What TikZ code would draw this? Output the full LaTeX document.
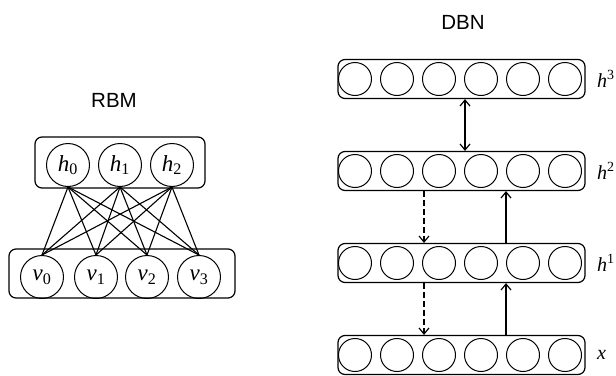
\documentclass[tikz,border=0pt]{standalone}
\usepackage{fontspec}
\setmainfont{Liberation Serif}
\setsansfont{Liberation Sans}
\usepackage{tikz}
\usetikzlibrary{arrows.meta}

\newcommand{\unitlab}[2]{\textit{#1}\textsubscript{#2}}

\tikzset{
  unit/.style = {circle, draw, line width=1pt, inner sep=0pt},
  layerbox/.style = {draw, rounded corners=7pt, line width=1.2pt, inner sep=0pt},
  link/.style = {line width=1.1pt},
  >={Straight Barb[length=6pt, width=10pt, line width=1.2pt]}
}

\begin{document}
\begin{tikzpicture}[x=1pt, y=-1pt, font=\fontsize{23}{26}\selectfont]
          \useasboundingbox (0,0) rectangle (616,375);

          % RBM
          \node[font=\sffamily\fontsize{20.5}{24}\selectfont] (rbm) at (114,100) {RBM};
          \node[layerbox, minimum width=170pt, minimum height=51pt] (hidbox) at (120,162.5) {};
          \node[layerbox, minimum width=226pt, minimum height=49pt] (visbox) at (122,273.5) {};
          \node[unit, minimum size=43pt] (h0) at (68,165) {\unitlab{h}{0}};
          \node[unit, minimum size=43pt] (h1) at (120,165) {\unitlab{h}{1}};
          \node[unit, minimum size=43pt] (h2) at (172,165) {\unitlab{h}{2}};
          \node[unit, minimum size=43pt] (v0) at (42,277) {\unitlab{v}{0}};
          \node[unit, minimum size=43pt] (v1) at (96,277) {\unitlab{v}{1}};
          \node[unit, minimum size=43pt] (v2) at (147,277) {\unitlab{v}{2}};
          \node[unit, minimum size=43pt] (v3) at (199,277) {\unitlab{v}{3}};
          \foreach \i in {0,1,2}
            \foreach \j in {0,1,2,3}
              \draw[link] (h\i.south) -- (v\j.north);

          % DBN
          \node[font=\sffamily\fontsize{20.5}{24}\selectfont] (dbn) at (463,22) {DBN};
          \foreach \l/\y/\lab in {3/79/\textit{h}\textsuperscript{3}, 2/171/\textit{h}\textsuperscript{2},
                                  1/263/\textit{h}\textsuperscript{1}, 0/355/\textit{x}} {
            \node[layerbox, minimum width=247pt, minimum height=39pt] (box\l) at (461.5,\y) {};
            \foreach \k in {1,...,6}
              \node[unit, minimum size=33pt] (c\l\k) at (313+42*\k,\y) {};
            \node[anchor=west, inner sep=0pt, font=\fontsize{20}{22}\selectfont] (lab\l) at (597,\y) {\lab};
          }
          \coordinate (mid) at (465,0);
          \coordinate (down) at (424,0);
          \coordinate (up) at (506,0);
          \draw[link, <->] (box3.south -| mid) -- (box2.north -| mid);
          \draw[link, dash pattern=on 6pt off 3pt, ->] (box2.south -| down) -- (box1.north -| down);
          \draw[link, dash pattern=on 6pt off 3pt, ->] (box1.south -| down) -- (box0.north -| down);
          \draw[link, ->] (box1.north -| up) -- (box2.south -| up);
          \draw[link, ->] (box0.north -| up) -- (box1.south -| up);
        \end{tikzpicture}
\end{document}
